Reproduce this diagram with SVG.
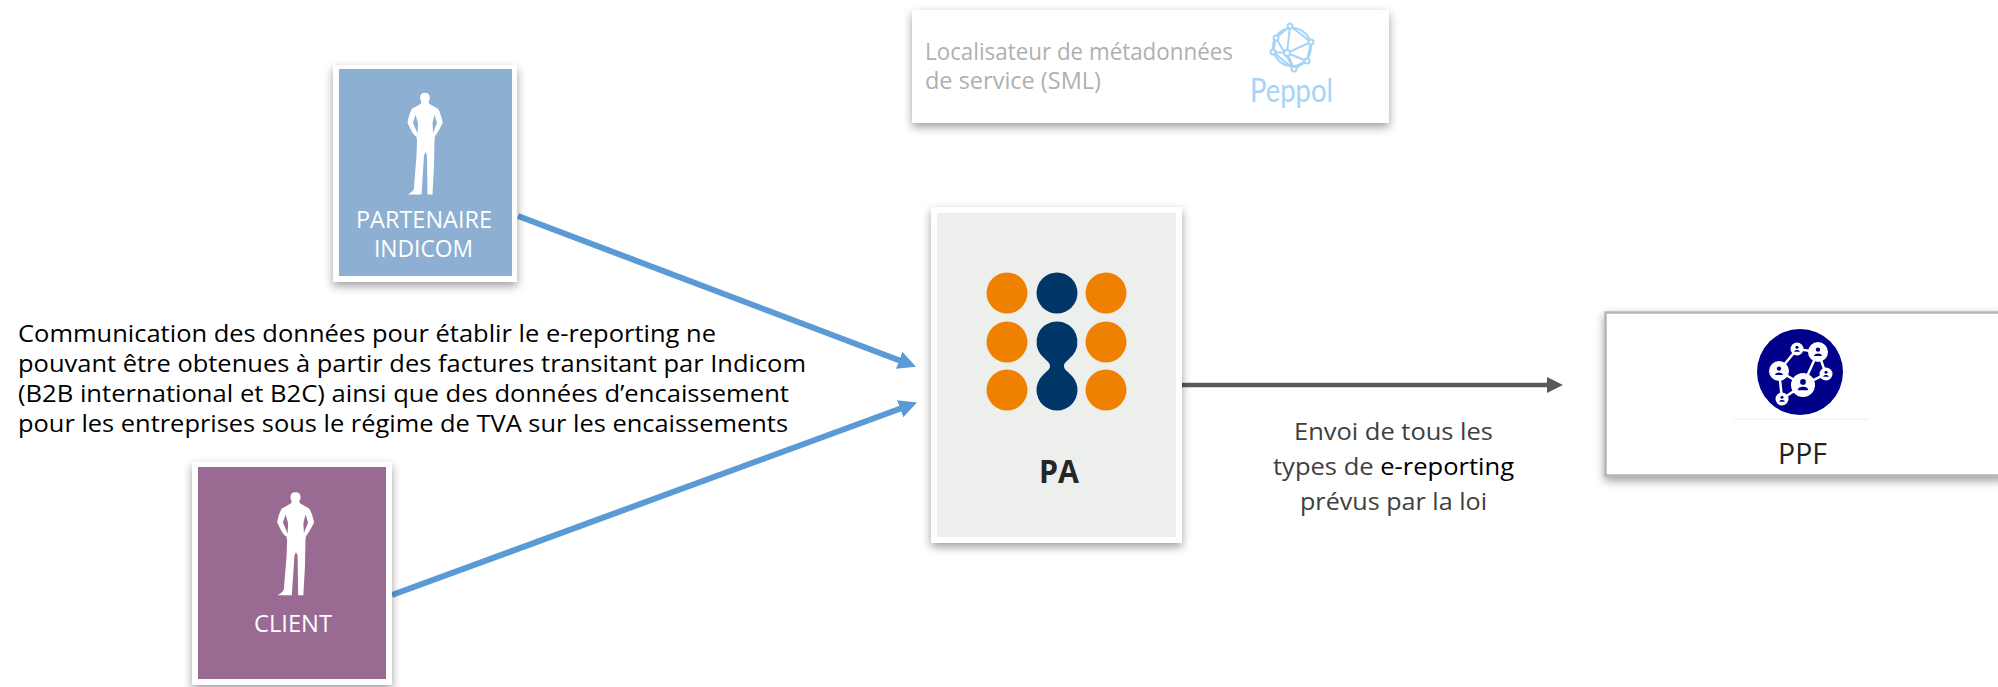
<svg xmlns="http://www.w3.org/2000/svg" xmlns:xlink="http://www.w3.org/1999/xlink" width="1998" height="687" viewBox="0 0 1998 687">
<style>
text{font-family:"Open Sans","Liberation Sans",sans-serif}
.card{fill:#fff;filter:url(#sh)}
.lbl{fill:#fff;font-size:23px;text-anchor:start}
.body{fill:#000;font-size:24px}
.envoi{fill:#404040;font-size:24px}
.sml{fill:#b0b0b0;font-size:23px}
.or{fill:#f08000}
.nv{fill:#003768}
.blue{fill:none;stroke:#5b9bd5;stroke-width:6}
.grey{fill:none;stroke:#595959;stroke-width:4.5}
.gl{fill:none;stroke:#a5d4f5;stroke-width:2}
.gn{fill:#fff;stroke:#a5d4f5;stroke-width:2}
.nw{fill:none;stroke:#fff;stroke-width:2.5}
</style>
<defs>
<filter id="sh" x="-10%" y="-10%" width="120%" height="125%"><feDropShadow dx="0" dy="4" stdDeviation="5" flood-color="#000" flood-opacity="0.38"/></filter>
<marker id="ab" markerUnits="userSpaceOnUse" markerWidth="20" markerHeight="20" refX="2" refY="10" orient="auto"><path d="M0,1 L18,10 L0,19 Z" fill="#5b9bd5"/></marker>
<marker id="ag" markerUnits="userSpaceOnUse" markerWidth="18" markerHeight="18" refX="2" refY="9" orient="auto"><path d="M0,1 L16,9 L0,17 Z" fill="#595959"/></marker>
<path id="man" fill="#fff" fill-rule="evenodd" d="M-3.5,-30 C-6,-34 -5,-38.5 0,-38.5 C5,-38.5 6,-34 3.5,-30 L4.5,-28 L13,-23.5 C15.5,-20 17,-14 17.7,-10.5 C15,-5 12,-0.5 10,2 L9.500,5 L9,30 L7.500,56 L8,56.5 L2.5,56.5 L2,20 L0.5,16.5 L-1,20 L-3.5,56.5 L-17,56.5 C-14,54.5 -11,53 -11,50 L-8.500,20 L-8,6 L-8.500,2.5 C-12,1 -14,-4 -17.5,-10.5 C-16.5,-16 -15,-20.5 -13,-23.5 L-4.5,-28 Z M-9.5,-18 L-12,-10.5 L-7.5,-0.5 L-7,-10 Z M9.5,-18 L12,-10.5 L8,-1 L7.5,-10 Z"/>
<g id="pers"><circle cx="0" cy="-2.4" r="2.2" fill="#00008b"/><path d="M-4,4 C-4,0.5 4,0.5 4,4 Z" fill="#00008b"/></g>
</defs>

<g id="connectors">
<path class="blue" d="M518,216 L901,361" marker-end="url(#ab)"/>
<path class="blue" d="M392,595 L902,408" marker-end="url(#ab)"/>
<path class="grey" d="M1182,385 L1549,385" marker-end="url(#ag)"/>
</g>

<g id="partenaire">
<rect class="card" x="333" y="65" width="184" height="217"/>
<rect x="339" y="69" width="173" height="207" fill="#8dafd1"/>
<use xlink:href="#man" href="#man" transform="translate(425,134) scale(1,1.07)"/>
<text class="lbl" x="356" y="228" textLength="136" lengthAdjust="spacingAndGlyphs">PARTENAIRE</text>
<text class="lbl" x="374" y="257" textLength="99" lengthAdjust="spacingAndGlyphs">INDICOM</text>
</g>

<g id="client">
<rect class="card" x="192" y="462" width="200" height="223"/>
<rect x="198" y="467" width="188" height="212" fill="#9a6b92"/>
<use xlink:href="#man" href="#man" transform="translate(295.5,534) scale(1.05,1.085)"/>
<text class="lbl" x="254" y="632" textLength="78" lengthAdjust="spacingAndGlyphs">CLIENT</text>
</g>

<g id="note">
<text class="body" x="18" y="342" textLength="698" lengthAdjust="spacingAndGlyphs">Communication des données pour établir le e-reporting ne</text>
<text class="body" x="18" y="372" textLength="788" lengthAdjust="spacingAndGlyphs">pouvant être obtenues à partir des factures transitant par Indicom</text>
<text class="body" x="18" y="402" textLength="771" lengthAdjust="spacingAndGlyphs">(B2B international et B2C) ainsi que des données d’encaissement</text>
<text class="body" x="18" y="432" textLength="770" lengthAdjust="spacingAndGlyphs">pour les entreprises sous le régime de TVA sur les encaissements</text>
</g>

<g id="sml">
<rect class="card" x="912" y="10" width="477" height="113"/>
<text class="sml" x="925" y="60" textLength="308" lengthAdjust="spacingAndGlyphs">Localisateur de métadonnées</text>
<text class="sml" x="925" y="89" textLength="176" lengthAdjust="spacingAndGlyphs">de service (SML)</text>
<circle class="gl" cx="1292" cy="47" r="19"/>
<path class="gl" d="M1290,26 L1287,53 L1307,61 M1287,53 L1311,42 M1287,53 L1294,69 M1287,53 L1273,52 M1276,38 L1294,69 M1290,26 L1311,42 L1307,61 L1294,69 L1273,52 L1276,38 Z"/>
<circle class="gn" cx="1290" cy="26" r="2.5"/><circle class="gn" cx="1276" cy="38" r="2.5"/><circle class="gn" cx="1311" cy="42" r="2.5"/><circle class="gn" cx="1273" cy="52" r="2.5"/><circle class="gn" cx="1287" cy="53" r="3"/><circle class="gn" cx="1307" cy="61" r="2.5"/><circle class="gn" cx="1294" cy="69" r="2.5"/>
<text x="1250" y="102" fill="#a5d4f5" font-size="32" style="font-family:Lato,'Liberation Sans',sans-serif" textLength="83" lengthAdjust="spacingAndGlyphs">Peppol</text>
</g>

<g id="pa">
<rect class="card" x="931" y="207" width="251" height="336"/>
<rect x="937" y="213" width="239" height="324" fill="#edefed"/>
<circle class="or" cx="1007" cy="293" r="20.5"/><circle class="nv" cx="1057" cy="293" r="20.5"/><circle class="or" cx="1106" cy="293" r="20.5"/>
<circle class="or" cx="1007" cy="342" r="20.5"/><circle class="or" cx="1106" cy="342" r="20.5"/>
<circle class="or" cx="1007" cy="390" r="20.5"/><circle class="or" cx="1106" cy="390" r="20.5"/>
<path class="nv" d="M1057,321.5 A20.5,20.5 0 0 1 1072,356 C1066,362 1064,363 1064,366 C1064,369 1066,370 1072,376 A20.5,20.5 0 1 1 1042,376 C1048,370 1050,369 1050,366 C1050,363 1048,362 1042,356 A20.5,20.5 0 0 1 1057,321.5 Z"/>
<text x="1039" y="483" fill="#262626" font-size="33" font-weight="700" textLength="40" lengthAdjust="spacingAndGlyphs">PA</text>
</g>

<g id="envoi">
<text class="envoi" x="1294" y="440" textLength="199" lengthAdjust="spacingAndGlyphs">Envoi de tous les</text>
<text class="envoi" x="1273" y="475" textLength="241" lengthAdjust="spacingAndGlyphs">types de <tspan fill="#000">e-reporting</tspan></text>
<text class="envoi" x="1300" y="510" textLength="187" lengthAdjust="spacingAndGlyphs">prévus par la loi</text>
</g>

<g id="ppf">
<rect x="1605.500" y="312.500" width="400" height="163" fill="#fff" stroke="#b5b5b5" stroke-width="2.500" filter="url(#sh)"/>
<circle cx="1800" cy="372" r="43" fill="#00008b"/>
<path class="nw" d="M1818,352 L1797,349 L1779,371 L1782,399 L1803,385 L1826,374 L1818,352 M1779,371 L1803,385 M1818,352 L1803,385"/>
<g fill="#fff"><circle cx="1818" cy="352" r="10"/><circle cx="1797" cy="349" r="6.500"/><circle cx="1779" cy="371" r="10"/><circle cx="1803" cy="385" r="12"/><circle cx="1826" cy="374" r="6.500"/><circle cx="1782" cy="399" r="6.500"/></g>
<use xlink:href="#pers" href="#pers" transform="translate(1818,352)"/>
<use xlink:href="#pers" href="#pers" transform="translate(1797,349) scale(.7)"/>
<use xlink:href="#pers" href="#pers" transform="translate(1779,371)"/>
<use xlink:href="#pers" href="#pers" transform="translate(1803,385) scale(1.3)"/>
<use xlink:href="#pers" href="#pers" transform="translate(1826,374) scale(.7)"/>
<use xlink:href="#pers" href="#pers" transform="translate(1782,399) scale(.7)"/>
<path d="M1733,419 H1868" stroke="#eee" stroke-width="1"/>
<text x="1778" y="464" fill="#222" font-size="29" font-weight="500" textLength="49" lengthAdjust="spacingAndGlyphs">PPF</text>
</g>
</svg>
